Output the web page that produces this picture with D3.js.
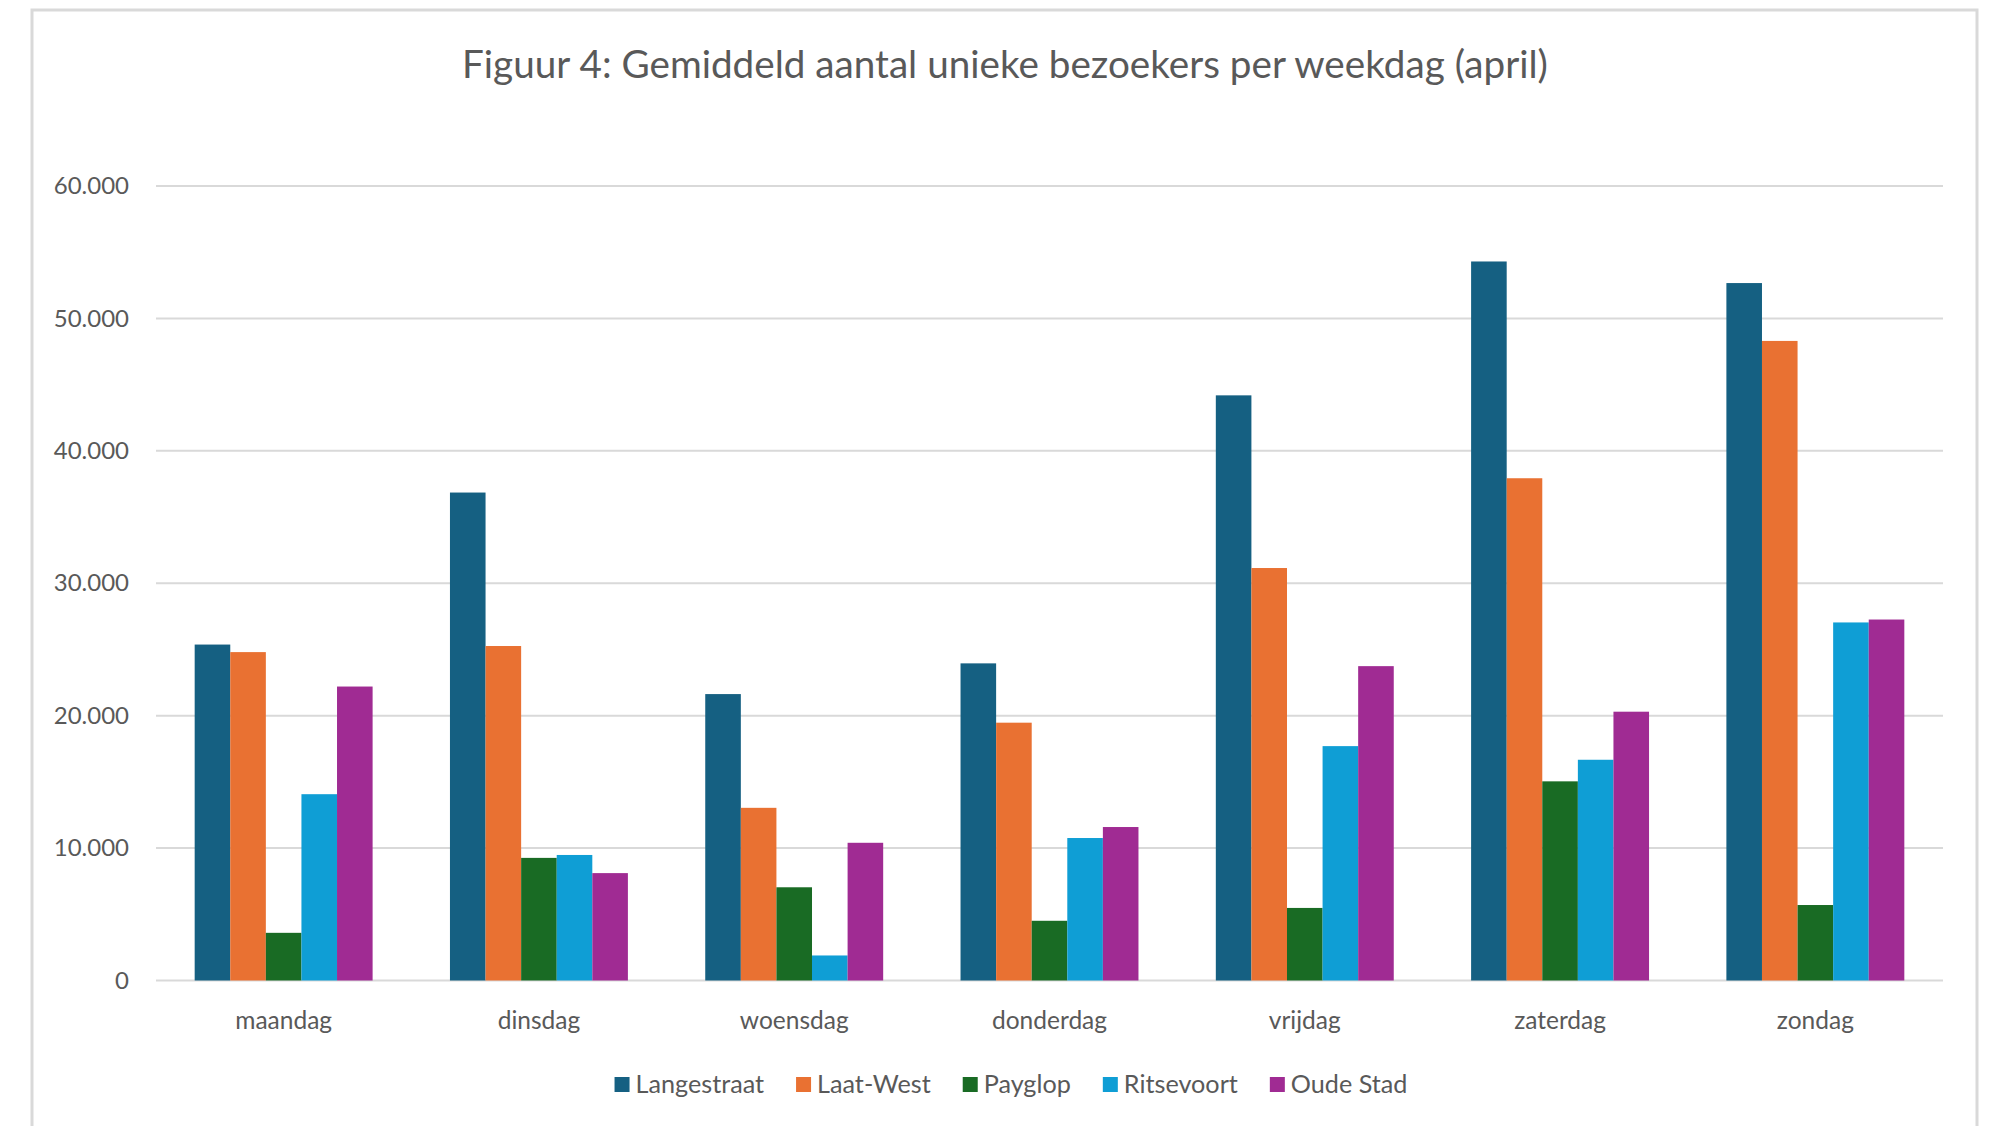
<!DOCTYPE html>
<html>
<head>
<meta charset="utf-8">
<script src="https://cdn.jsdelivr.net/npm/d3@7"></script>
<style>
  html, body { margin: 0; padding: 0; background: #ffffff; }
  svg { display: block; }
  text { font-family: Lato, "Noto Sans", sans-serif; fill: #595959; }
</style>
</head>
<body>
<svg id="chart" width="1994" height="1126"></svg>
<script>
const categories = ["maandag", "dinsdag", "woensdag", "donderdag", "vrijdag", "zaterdag", "zondag"];
const seriesNames = ["Langestraat", "Laat-West", "Payglop", "Ritsevoort", "Oude Stad"];
const langestraat = [25370, 36850, 21630, 23950, 44190, 54300, 52670];
const laatWest    = [24800, 25260, 13040, 19470, 31150, 37930, 48300];
const payglop     = [3600, 9260, 7040, 4510, 5480, 15040, 5700];
const ritsevoort  = [14070, 9480, 1890, 10760, 17700, 16670, 27040];
const oudeStad    = [22200, 8110, 10400, 11590, 23740, 20300, 27260];
const yTicks = [0, 10000, 20000, 30000, 40000, 50000, 60000];
const colors = ["#156082", "#E97132", "#196B24", "#0F9ED5", "#A02B93"];
const titleText = "Figuur 4: Gemiddeld aantal unieke bezoekers per weekdag (april)";

const seriesValues = [langestraat, laatWest, payglop, ritsevoort, oudeStad];
const svg = d3.select("#chart");

// frame
svg.append("rect")
  .attr("x", 32).attr("y", 10)
  .attr("width", 1945).attr("height", 1140)
  .attr("fill", "#ffffff")
  .attr("stroke", "#d9d9d9").attr("stroke-width", 3);

const plot = { left: 156, right: 1943, top: 186, bottom: 980.5 };

const x0 = d3.scaleBand().domain(categories)
  .range([plot.left, plot.right])
  .paddingInner(0.303).paddingOuter(0.1515);
const x1 = d3.scaleBand().domain(seriesNames).range([0, x0.bandwidth()]).padding(0);
const y = d3.scaleLinear().domain([0, 60000]).range([plot.bottom, plot.top]);

const fmt = v => d3.format(",")(v).replace(/,/g, ".");

// gridlines
svg.append("g").selectAll("line").data(yTicks).join("line")
  .attr("x1", plot.left).attr("x2", plot.right)
  .attr("y1", d => y(d)).attr("y2", d => y(d))
  .attr("stroke", "#d9d9d9").attr("stroke-width", 2);

// y axis labels
const yAxis = d3.axisLeft(y).tickValues(yTicks).tickFormat(fmt).tickSize(0).tickPadding(0);
const yg = svg.append("g").attr("transform", "translate(129,0)").call(yAxis);
yg.select(".domain").remove();
yg.selectAll("text").attr("font-size", 24).attr("fill", "#595959")
  .style("font-family", "Lato, 'Noto Sans', sans-serif");

// bars
const groups = svg.append("g").selectAll("g").data(categories).join("g")
  .attr("transform", c => `translate(${x0(c)},0)`);
groups.selectAll("rect")
  .data((c, ci) => seriesNames.map((s, si) => ({ s, si, v: seriesValues[si][ci] })))
  .join("rect")
  .attr("x", d => x1(d.s))
  .attr("width", x1.bandwidth())
  .attr("y", d => y(d.v))
  .attr("height", d => y(0) - y(d.v))
  .attr("fill", d => colors[d.si]);

// x axis labels
const xAxis = d3.axisBottom(x0).tickSize(0).tickPadding(0);
const xg = svg.append("g").attr("transform", "translate(0,1029)").call(xAxis);
xg.select(".domain").remove();
xg.selectAll("text").attr("font-size", 24.5).attr("fill", "#595959").attr("dy", 0)
  .style("font-family", "Lato, 'Noto Sans', sans-serif");

// title
const title = svg.append("text")
  .attr("x", 1005).attr("y", 78)
  .attr("text-anchor", "middle")
  .attr("font-size", 40)
  .text(titleText);
const tw = title.node().getComputedTextLength();
title.attr("font-size", 40 * 1086 / tw);

// legend
const legend = svg.append("g");
const items = legend.selectAll("g").data(seriesNames).join("g");
items.append("rect").attr("width", 15).attr("height", 15).attr("y", -16)
  .attr("fill", (d, i) => colors[i]);
items.append("text").attr("x", 21).attr("y", 0).attr("font-size", 25.2).text(d => d);
let cx = 0;
const positions = [];
items.each(function () {
  positions.push(cx);
  const w = d3.select(this).select("text").node().getComputedTextLength();
  cx += 21 + w + 32;
});
const total = cx - 32;
const startX = 1011 - total / 2;
items.attr("transform", (d, i) => `translate(${startX + positions[i]},1093)`);
</script>
</body>
</html>
